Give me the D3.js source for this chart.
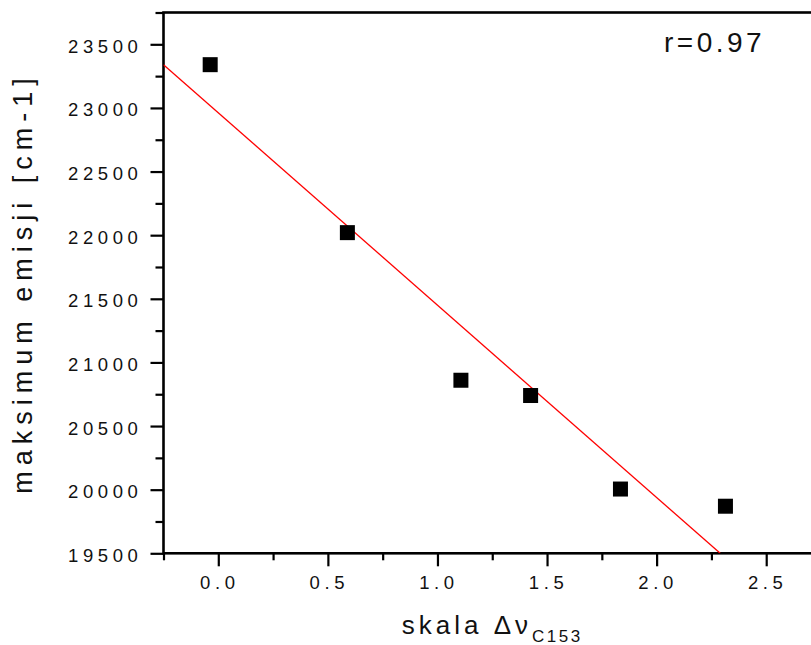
<!DOCTYPE html>
<html lang="pl">
<head>
    <meta charset="utf-8">
    <title>maksimum emisji vs skala</title>
    <script src="https://d3js.org/d3.v7.min.js"></script>
    <style type="text/css">
        body { margin: 0; background: #fff; }
        svg { display: block; font-family: "Liberation Sans", Arial, sans-serif; }
        .axis path { display: none; }
        .axis line { stroke: #000; stroke-width: 2.2; }
        .axis text { font-size: 18.5px; letter-spacing: 4.6px; fill: #111; font-family: "Liberation Sans", Arial, sans-serif; }
    </style>
</head>
<body>
<script type="text/javascript">
    //data
    var xValues = [-0.037, 0.589, 1.107, 1.425, 1.835, 2.314];
    var yValues = [23340, 22020, 20860, 20740, 20005, 19870];
    //the red fit line, its two visible ends
    var fitX = [-0.25, 2.29];
    var fitY = [23340, 19500];
    var xTicks = [0.0, 0.5, 1.0, 1.5, 2.0, 2.5];
    var xMinorTicks = [-0.25, 0.25, 0.75, 1.25, 1.75, 2.25, 2.75];
    var yTicks = [19500, 20000, 20500, 21000, 21500, 22000, 22500, 23000, 23500];
    var yMinorTicks = [19750, 20250, 20750, 21250, 21750, 22250, 22750, 23250, 23750];
    var rLabel = "r=0.97";

    var w = 811;
    var h = 645;
    //plot box (the right side falls just outside the window)
    var padL = 163.5, padR = 821, padT = 12.5, padB = 553.3;

    var xScale = d3.scaleLinear().domain([-0.25, 2.75]).range([padL, padR]);
    var yScale = d3.scaleLinear().domain([19500, 23750]).range([padB, padT]);

    var svg = d3.select("body")
        .append("svg")
        .attr("width", w)
        .attr("height", h);

    svg.append("clipPath")
        .attr("id", "plotclip")
        .append("rect")
        .attr("x", padL)
        .attr("y", padT)
        .attr("width", padR - padL)
        .attr("height", padB - padT);

    //minor ticks first
    svg.append("g")
        .attr("class", "axis")
        .attr("transform", "translate(" + padL + ",0)")
        .call(d3.axisLeft(yScale).tickValues(yMinorTicks).tickSize(8).tickFormat(""));
    svg.append("g")
        .attr("class", "axis")
        .attr("transform", "translate(0," + padB + ")")
        .call(d3.axisBottom(xScale).tickValues(xMinorTicks).tickSize(7).tickFormat(""));

    //major ticks with labels
    var yAxis = svg.append("g")
        .attr("class", "axis")
        .attr("transform", "translate(" + padL + ",0)")
        .call(d3.axisLeft(yScale).tickValues(yTicks).tickSize(13).tickPadding(8).tickFormat(d3.format("d")));
    yAxis.selectAll("text").attr("dy", "0.43em");

    var xAxis = svg.append("g")
        .attr("class", "axis")
        .attr("transform", "translate(0," + padB + ")")
        .call(d3.axisBottom(xScale).tickValues(xTicks).tickSize(13).tickPadding(10).tickFormat(d3.format(".1f")));
    xAxis.selectAll("text").attr("dx", "1px");

    //frame
    svg.append("rect")
        .attr("x", padL)
        .attr("y", padT)
        .attr("width", padR - padL)
        .attr("height", padB - padT)
        .attr("fill", "none")
        .attr("stroke", "#000")
        .attr("stroke-width", 2.6);

    //fit line
    svg.append("line")
        .attr("clip-path", "url(#plotclip)")
        .attr("x1", xScale(fitX[0]))
        .attr("y1", yScale(fitY[0]))
        .attr("x2", xScale(fitX[1]))
        .attr("y2", yScale(fitY[1]))
        .attr("stroke", "#f00")
        .attr("stroke-width", 1.3);

    //points
    var size = 15;
    svg.selectAll("rect.pt")
        .data(xValues)
        .enter()
        .append("rect")
        .attr("class", "pt")
        .attr("x", function(d) { return xScale(d) - size / 2; })
        .attr("y", function(d, i) { return yScale(yValues[i]) - size / 2; })
        .attr("width", size)
        .attr("height", size)
        .attr("fill", "#000");

    //r label
    svg.append("text")
        .attr("x", 664)
        .attr("y", 52)
        .attr("font-size", "28px")
        .attr("letter-spacing", "3.5px")
        .attr("fill", "#111")
        .text(rLabel);

    //x title
    var xt = svg.append("text")
        .attr("x", (padL + padR) / 2)
        .attr("y", 634)
        .attr("text-anchor", "middle")
        .attr("font-size", "26px")
        .attr("letter-spacing", "4px")
        .attr("fill", "#111");
    xt.append("tspan").text("skala \u0394\u03bd");
    xt.append("tspan")
        .attr("dy", 8)
        .attr("font-size", "17px")
        .attr("letter-spacing", "2.5px")
        .text("C153");

    //y title
    svg.append("text")
        .attr("transform", "translate(32," + ((padT + padB) / 2) + ") rotate(-90)")
        .attr("text-anchor", "middle")
        .attr("font-size", "27px")
        .attr("letter-spacing", "6px")
        .attr("fill", "#111")
        .text("maksimum emisji [cm-1]");
</script>
</body>
</html>
